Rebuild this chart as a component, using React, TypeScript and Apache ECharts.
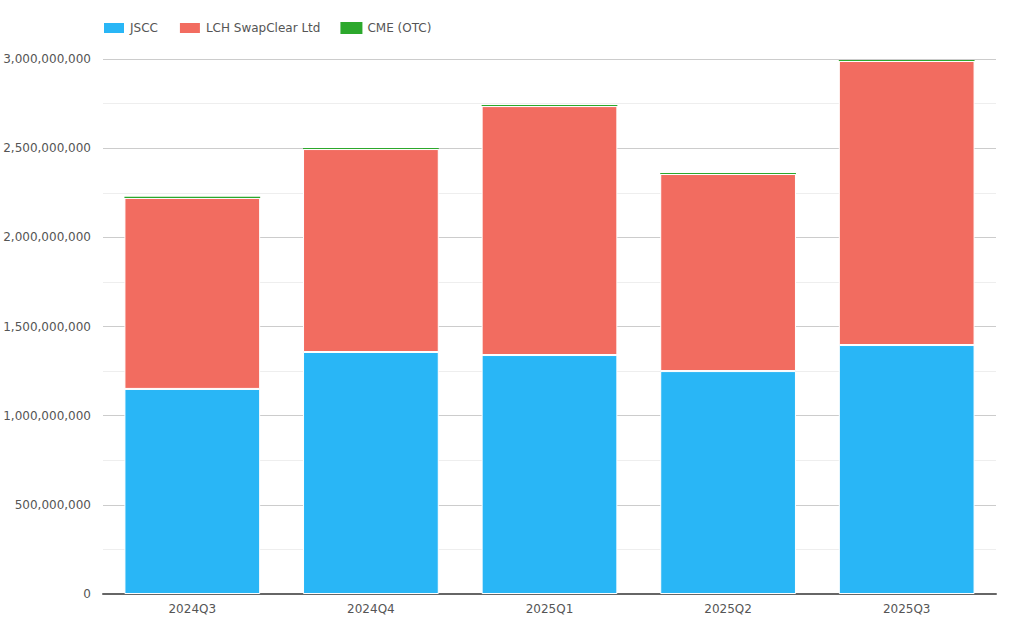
import React, { useEffect, useRef } from "react";
import * as echarts from "echarts";

const categories = ["2024Q3", "2024Q4", "2025Q1", "2025Q2", "2025Q3"];
const jscc = [1150000000, 1357000000, 1340000000, 1250000000, 1396000000];
const lch = [1071000000, 1138000000, 1396000000, 1105000000, 1593000000];
const cme = [6000000, 6000000, 6000000, 6000000, 6000000];

const FONT = "DejaVu Sans";

export default function App() {
  const ref = useRef<HTMLDivElement>(null);
  useEffect(() => {
    const chart = echarts.init(ref.current!, null, { renderer: "svg" });
    const mk = (name: string, data: number[], color: string, border: number) => ({
      name,
      type: "bar",
      stack: "total",
      data,
      barCategoryGap: "24%",
      itemStyle: { color, borderColor: "#ffffff", borderWidth: border },
      emphasis: { disabled: true },
    });
    chart.setOption({
      animation: false,
      textStyle: { fontFamily: FONT },
      legend: {
        left: 97,
        top: 16,
        itemWidth: 22,
        itemHeight: 12,
        itemGap: 20,
        icon: "rect",
        textStyle: { fontFamily: FONT, fontSize: 12, color: "#555" },
        data: ["JSCC", "LCH SwapClear Ltd", "CME (OTC)"],
      },
      grid: {
        left: 103,
        right: 28,
        top: 59,
        bottom: 40,
        containLabel: false,
        outerBoundsMode: "none",
      },
      xAxis: {
        type: "category",
        data: categories,
        axisLine: { show: true, lineStyle: { color: "#666", width: 2 } },
        axisTick: { show: false },
        axisLabel: { fontFamily: FONT, fontSize: 12, color: "#555", margin: 9 },
      },
      yAxis: {
        type: "value",
        min: 0,
        max: 3000000000,
        interval: 500000000,
        axisLine: { show: false },
        axisTick: { show: false },
        axisLabel: {
          fontFamily: FONT,
          fontSize: 12,
          color: "#555",
          margin: 12,
          formatter: (v: number) => v.toLocaleString("en-US"),
        },
        splitLine: { show: true, lineStyle: { color: "#cccccc", width: 1 } },
        minorTick: { show: false, splitNumber: 2 },
        minorSplitLine: { show: true, lineStyle: { color: "#eeeeee", width: 1 } },
      },
      series: [
        mk("JSCC", jscc, "#29b6f6", 1),
        mk("LCH SwapClear Ltd", lch, "#f26c60", 1),
        mk("CME (OTC)", cme, "#2ca82c", 0),
      ],
    });
    return () => chart.dispose();
  }, []);
  return (
    <div
      ref={ref}
      style={{ position: "absolute", left: 0, top: 0, width: 1024, height: 634 }}
    />
  );
}
